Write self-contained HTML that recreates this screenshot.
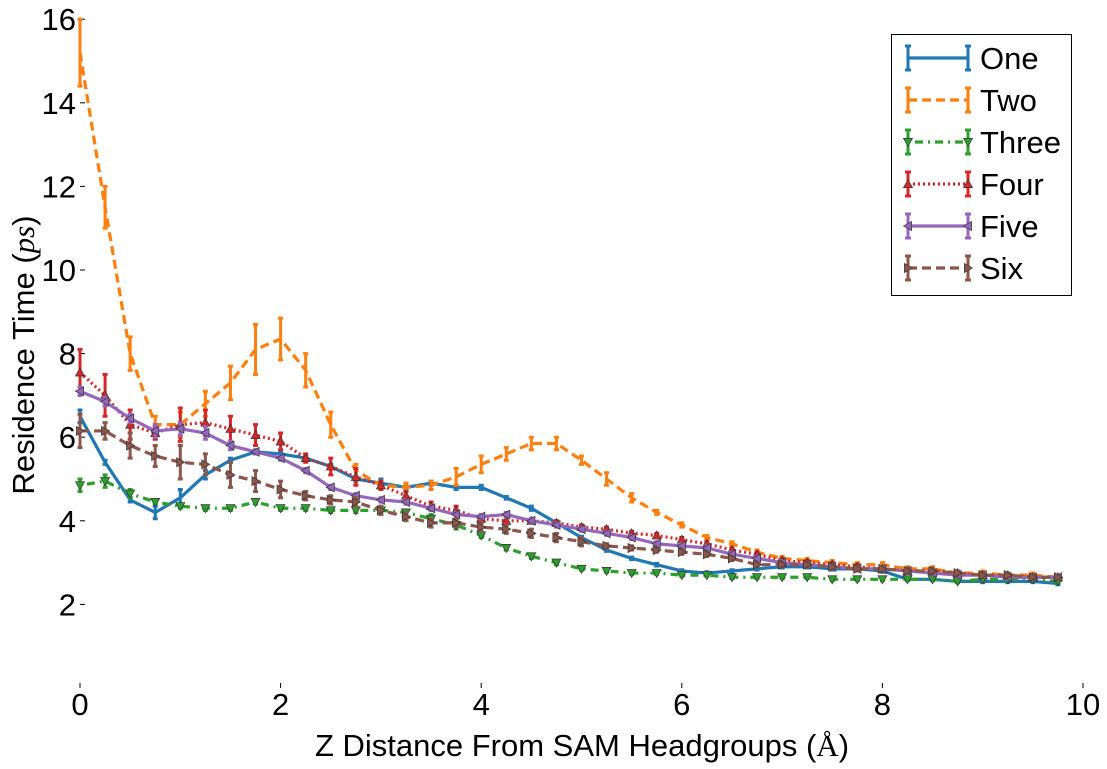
<!DOCTYPE html>
<html><head><meta charset="utf-8">
<style>
html,body{margin:0;padding:0;background:#fff;}
svg{display:block;font-family:"Liberation Sans",sans-serif;}
</style></head>
<body>
<svg id="chart" width="1107" height="769" viewBox="0 0 1107 769" xmlns="http://www.w3.org/2000/svg">
<g id="axes"></g>
<g id="series"></g>
<text x="582" y="756" font-size="31" text-anchor="middle">Z Distance From SAM Headgroups (<tspan font-family="Liberation Serif">Å</tspan>)</text>
<text transform="translate(34,355) rotate(-90)" font-size="31" text-anchor="middle">Residence Time (<tspan font-family="Liberation Serif" font-style="italic">ps</tspan>)</text>
<g id="legend">
<rect x="891.5" y="34.5" width="180" height="261" fill="#fff" stroke="#000" stroke-width="1"/>
</g>
</svg>
<script>
const categories=[0,0.25,0.5,0.75,1,1.25,1.5,1.75,2,2.25,2.5,2.75,3,3.25,3.5,3.75,4,4.25,4.5,4.75,5,5.25,5.5,5.75,6,6.25,6.5,6.75,7,7.25,7.5,7.75,8,8.25,8.5,8.75,9,9.25,9.5,9.75];
const seriesNames=["One","Two","Three","Four","Five","Six"];
const oneVals=[6.5,5.4,4.5,4.2,4.55,5.1,5.45,5.65,5.6,5.5,5.3,5.0,4.9,4.8,4.9,4.8,4.8,4.55,4.3,3.95,3.6,3.3,3.1,2.95,2.8,2.75,2.8,2.85,2.9,2.9,2.85,2.85,2.8,2.6,2.6,2.55,2.55,2.55,2.55,2.5];
const oneErr=[0.15,0.05,0.05,0.15,0.2,0.1,0.05,0.05,0.05,0.05,0.05,0.05,0.1,0.05,0.05,0.05,0.05,0.03,0.05,0.03,0.03,0.03,0.03,0.03,0.03,0.03,0.03,0.03,0.03,0.03,0.03,0.03,0.03,0.03,0.03,0.03,0.03,0.03,0.03,0.03];
const twoVals=[15.2,11.5,8.0,6.3,6.3,6.8,7.3,8.1,8.35,7.6,6.3,5.2,4.85,4.8,4.85,5.05,5.35,5.6,5.85,5.85,5.45,5.0,4.55,4.2,3.9,3.6,3.45,3.25,3.1,3.05,3.0,2.95,2.95,2.85,2.85,2.75,2.75,2.7,2.7,2.65];
const twoErr=[0.8,0.5,0.4,0.2,0.3,0.3,0.4,0.6,0.5,0.4,0.3,0.15,0.1,0.1,0.1,0.2,0.2,0.15,0.15,0.15,0.1,0.15,0.1,0.05,0.05,0.05,0.05,0.05,0.05,0.05,0.05,0.05,0.05,0.05,0.05,0.05,0.05,0.05,0.05,0.05];
const threeVals=[4.85,4.95,4.65,4.45,4.35,4.3,4.3,4.45,4.3,4.3,4.25,4.25,4.25,4.2,4.05,3.9,3.65,3.35,3.15,3.0,2.85,2.8,2.75,2.75,2.7,2.7,2.65,2.65,2.65,2.65,2.6,2.6,2.6,2.6,2.6,2.55,2.6,2.6,2.6,2.55];
const threeErr=[0.15,0.15,0.1,0.05,0.05,0.05,0.05,0.05,0.05,0.05,0.05,0.05,0.05,0.05,0.1,0.1,0.05,0.05,0.05,0.05,0.03,0.03,0.03,0.03,0.03,0.03,0.03,0.03,0.03,0.03,0.03,0.03,0.03,0.03,0.03,0.03,0.03,0.03,0.03,0.03];
const fourVals=[7.55,7.0,6.3,6.1,6.3,6.35,6.2,6.05,5.9,5.5,5.3,5.05,4.85,4.6,4.35,4.25,4.05,4.0,4.0,3.95,3.85,3.8,3.7,3.65,3.55,3.45,3.3,3.2,3.05,3.0,2.95,2.9,2.85,2.8,2.8,2.75,2.7,2.7,2.65,2.65];
const fourErr=[0.55,0.5,0.35,0.15,0.4,0.3,0.3,0.25,0.2,0.1,0.2,0.2,0.1,0.1,0.1,0.1,0.1,0.1,0.05,0.05,0.05,0.05,0.05,0.05,0.05,0.05,0.05,0.05,0.05,0.05,0.05,0.05,0.05,0.05,0.05,0.05,0.05,0.05,0.05,0.05];
const fiveVals=[7.1,6.85,6.45,6.15,6.2,6.1,5.8,5.65,5.5,5.2,4.8,4.6,4.5,4.45,4.3,4.15,4.1,4.15,4.0,3.9,3.8,3.7,3.6,3.45,3.4,3.35,3.2,3.1,3.0,2.95,2.9,2.85,2.85,2.8,2.75,2.7,2.7,2.65,2.65,2.65];
const fiveErr=[0.1,0.1,0.1,0.15,0.15,0.15,0.1,0.05,0.05,0.05,0.05,0.05,0.05,0.05,0.05,0.05,0.05,0.05,0.05,0.05,0.05,0.05,0.05,0.05,0.05,0.05,0.05,0.05,0.05,0.05,0.05,0.05,0.05,0.05,0.05,0.05,0.05,0.05,0.05,0.05];
const sixVals=[6.15,6.15,5.8,5.55,5.4,5.35,5.1,4.95,4.75,4.6,4.5,4.45,4.25,4.1,3.95,3.95,3.85,3.8,3.7,3.6,3.5,3.4,3.35,3.3,3.25,3.2,3.1,2.95,2.95,2.95,2.9,2.85,2.85,2.8,2.8,2.75,2.7,2.7,2.65,2.65];
const sixErr=[0.4,0.2,0.3,0.25,0.4,0.25,0.3,0.25,0.2,0.1,0.1,0.1,0.1,0.1,0.1,0.1,0.1,0.1,0.1,0.1,0.1,0.05,0.05,0.05,0.05,0.05,0.05,0.05,0.05,0.05,0.05,0.05,0.05,0.05,0.05,0.05,0.05,0.05,0.05,0.05];
const xTicks=[0,2,4,6,8,10];
const yTicks=[2,4,6,8,10,12,14,16];

const NS="http://www.w3.org/2000/svg";
function X(v){return 80+100.3*v;}
function Y(v){return 688-41.8*v;}
function mk(tag,attrs,parent){const e=document.createElementNS(NS,tag);for(const k in attrs)e.setAttribute(k,attrs[k]);parent.appendChild(e);return e;}

const axes=document.getElementById('axes');
xTicks.forEach(t=>{
  const l=mk('line',{x1:X(t),x2:X(t),y1:688,y2:683,stroke:'#000','stroke-width':1},axes);
  
  
  const tx=mk('text',{x:X(t),y:715,'font-size':31,'text-anchor':'middle'},axes);
  tx.textContent=t;
  
  
});
yTicks.forEach(t=>{
  const l=mk('line',{x1:80,x2:85,y1:Y(t),y2:Y(t),stroke:'#000','stroke-width':1},axes);
  
  
  const tx=mk('text',{x:76,y:Y(t)+11,'font-size':31,'text-anchor':'end'},axes);
  tx.textContent=t;
  
  
});

const styles=[
  {vals:oneVals,err:oneErr,color:'#1f77b4',dash:'',marker:null},
  {vals:twoVals,err:twoErr,color:'#ff7f0e',dash:'9,5',marker:null},
  {vals:threeVals,err:threeErr,color:'#2ca02c',dash:'2,5,8,5',marker:'down'},
  {vals:fourVals,err:fourErr,color:'#d62728',dash:'2,3',marker:'up'},
  {vals:fiveVals,err:fiveErr,color:'#9467bd',dash:'',marker:'left'},
  {vals:sixVals,err:sixErr,color:'#8c564b',dash:'9,5',marker:'right'}
];
function tri(x,y,dir,r){
  let p;
  if(dir==='up')p=[[x,y-r],[x-r,y+r*0.8],[x+r,y+r*0.8]];
  else if(dir==='down')p=[[x,y+r],[x-r,y-r*0.8],[x+r,y-r*0.8]];
  else if(dir==='left')p=[[x-r,y],[x+r*0.8,y-r],[x+r*0.8,y+r]];
  else p=[[x+r,y],[x-r*0.8,y-r],[x-r*0.8,y+r]];
  return p.map(q=>q.join(',')).join(' ');
}
const sg=document.getElementById('series');
styles.forEach((s,i)=>{
  const g=mk('g',{},sg);
  
  
  const pts=categories.map((c,j)=>X(c)+','+Y(s.vals[j])).join(' ');
  const pl=mk('polyline',{points:pts,fill:'none',stroke:s.color,'stroke-width':3.2,'stroke-dasharray':s.dash},g);
  
  
  categories.forEach((c,j)=>{
    const x=X(c),y1=Y(s.vals[j]+s.err[j]),y2=Y(s.vals[j]-s.err[j]);
    const eb=mk('path',{d:`M${x},${y1}V${y2}M${x-2.5},${y1}H${x+2.5}M${x-2.5},${y2}H${x+2.5}`,stroke:s.color,'stroke-width':3,fill:'none'},g);
    
    
    if(s.marker){
      const m=mk('polygon',{points:tri(x,Y(s.vals[j]),s.marker,4.5),fill:s.color,stroke:'#333','stroke-width':0.7},g);
      
      
    }
  });
});

const lg=document.getElementById('legend');
seriesNames.forEach((n,i)=>{
  const s=styles[i];const y=58+i*42;
  const g=mk('g',{},lg);
  
  
  mk('line',{x1:908,x2:968,y1:y,y2:y,stroke:s.color,'stroke-width':3.2,'stroke-dasharray':s.dash},g);
  [908,968].forEach(x=>mk('path',{d:`M${x},${y-12}V${y+12}M${x-3},${y-12}H${x+3}M${x-3},${y+12}H${x+3}`,stroke:s.color,'stroke-width':3},g));
  if(s.marker)[908,968].forEach(x=>mk('polygon',{points:tri(x,y,s.marker,4.5),fill:s.color,stroke:'#333','stroke-width':0.7},g));
  const t=mk('text',{x:980,y:y+11,'font-size':31},g);
  t.textContent=n;
});
</script>
</body></html>
